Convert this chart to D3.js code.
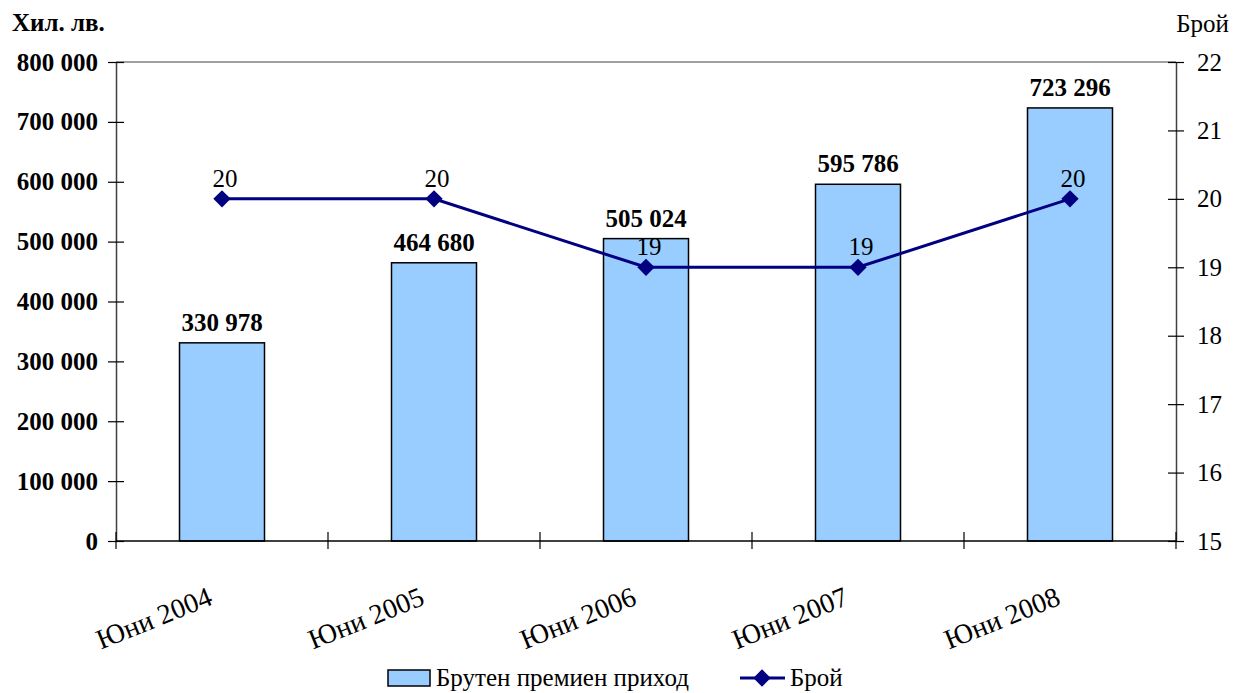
<!DOCTYPE html>
<html><head><meta charset="utf-8">
<script src="https://cdn.jsdelivr.net/npm/d3@7"></script>
<style>body{margin:0;background:#fff}</style>
</head><body>
<svg id="c" width="1245" height="693"></svg>
<script>
const categories = ["Юни 2004","Юни 2005","Юни 2006","Юни 2007","Юни 2008"];
const premiums = [330978, 464680, 505024, 595786, 723296];
const counts = [20, 20, 19, 19, 20];
const leftTicks = [0,100000,200000,300000,400000,500000,600000,700000,800000];
const rightTicks = [15,16,17,18,19,20,21,22];

const svg = d3.select("#c");
const L=116, R=1176, T=62, B=541;
const font = "'Liberation Serif','Times New Roman',serif";
const FS = 25;
const x = d3.scaleBand().domain(categories).range([L,R]).paddingInner(0).paddingOuter(0);
const yL = d3.scaleLinear().domain([0,800000]).range([B,T]);
const yR = d3.scaleLinear().domain([15,22]).range([B,T]);
const fmt = v => d3.format(",")(v).replace(/,/g," ");

// top border
svg.append("line").attr("x1",L).attr("x2",R).attr("y1",T).attr("y2",T).attr("stroke","#808080").attr("stroke-width",1.5);

// bars
const bw = 85;
svg.selectAll("rect.bar").data(premiums).join("rect")
  .attr("x",(d,i)=>x(categories[i])+x.bandwidth()/2-bw/2)
  .attr("y",d=>yL(d)).attr("width",bw).attr("height",d=>B-yL(d))
  .attr("fill","#99CCFF").attr("stroke","#000").attr("stroke-width",1.5);

// left axis
const gl = svg.append("g").attr("transform",`translate(${L},0)`)
  .call(d3.axisLeft(yL).tickValues(leftTicks).tickFormat(fmt).tickSizeInner(8).tickSizeOuter(0).tickPadding(10));
gl.select(".domain").attr("stroke","#404040").attr("stroke-width",1.5);
gl.selectAll(".tick line").attr("x2",8).attr("x1",-8).attr("stroke","#000").attr("stroke-width",1.2);
gl.selectAll(".tick text").attr("font-family",font).attr("font-size",FS).attr("font-weight","bold").attr("fill","#000").attr("x",-18);

// right axis
const gr = svg.append("g").attr("transform",`translate(${R},0)`)
  .call(d3.axisRight(yR).tickValues(rightTicks).tickFormat(d3.format("d")).tickSizeInner(8).tickSizeOuter(0).tickPadding(10));
gr.select(".domain").attr("stroke","#404040").attr("stroke-width",1.5);
gr.selectAll(".tick line").attr("x1",-8).attr("x2",8).attr("stroke","#000").attr("stroke-width",1.2);
gr.selectAll(".tick text").attr("font-family",font).attr("font-size",FS).attr("fill","#000").attr("x",21);

// bottom axis
const gb = svg.append("g").attr("transform",`translate(0,${B})`);
gb.append("line").attr("x1",L).attr("x2",R).attr("stroke","#000").attr("stroke-width",1.5);
const bounds = categories.map(c=>x(c)).concat([R]);
gb.selectAll("line.tk").data(bounds).join("line").attr("class","tk")
  .attr("x1",d=>d).attr("x2",d=>d).attr("y1",-9).attr("y2",8).attr("stroke","#000").attr("stroke-width",1.2);
gb.selectAll("text.cat").data(categories).join("text").attr("class","cat")
  .attr("transform",d=>`translate(${x(d)+x.bandwidth()/2-8},${63}) rotate(-22)`)
  .attr("text-anchor","end")
  .attr("font-family",font).attr("font-size",28).text(d=>d);

// bar labels
svg.selectAll("text.bl").data(premiums).join("text").attr("class","bl")
  .attr("x",(d,i)=>x(categories[i])+x.bandwidth()/2).attr("y",d=>yL(d)-12)
  .attr("text-anchor","middle").attr("font-family",font).attr("font-size",FS).attr("font-weight","bold")
  .text(fmt);

// line
const cx = i=>x(categories[i])+x.bandwidth()/2;
const diamond = d3.symbol().type(d3.symbolSquare).size(150);
svg.append("path").datum(counts)
  .attr("d",d3.line().x((d,i)=>cx(i)).y(d=>yR(d)))
  .attr("fill","none").attr("stroke","#000080").attr("stroke-width",3);
svg.selectAll("path.mk").data(counts).join("path").attr("class","mk")
  .attr("d",diamond)
  .attr("transform",(d,i)=>`translate(${cx(i)},${yR(d)}) rotate(45)`).attr("fill","#000080");
svg.selectAll("text.ll").data(counts).join("text").attr("class","ll")
  .attr("x",(d,i)=>cx(i)+3).attr("y",d=>yR(d)-12)
  .attr("text-anchor","middle").attr("font-family",font).attr("font-size",FS).text(d=>d);

// titles
svg.append("text").attr("x",12).attr("y",31).attr("font-family",font).attr("font-size",FS).attr("font-weight","bold").text("Хил. лв.");
svg.append("text").attr("x",1229).attr("y",32).attr("text-anchor","end").attr("font-family",font).attr("font-size",FS).text("Брой");

// legend
const lg = svg.append("g");
lg.append("rect").attr("x",388).attr("y",670).attr("width",42).attr("height",16).attr("fill","#99CCFF").attr("stroke","#000").attr("stroke-width",1.5);
lg.append("text").attr("x",436).attr("y",686).attr("font-family",font).attr("font-size",FS).text("Брутен премиен приход");
lg.append("line").attr("x1",740).attr("x2",785).attr("y1",678).attr("y2",678).attr("stroke","#000080").attr("stroke-width",3);
lg.append("path").attr("d",diamond).attr("transform","translate(762,678) rotate(45)").attr("fill","#000080");
lg.append("text").attr("x",790).attr("y",686).attr("font-family",font).attr("font-size",FS).text("Брой");
</script>
</body></html>
